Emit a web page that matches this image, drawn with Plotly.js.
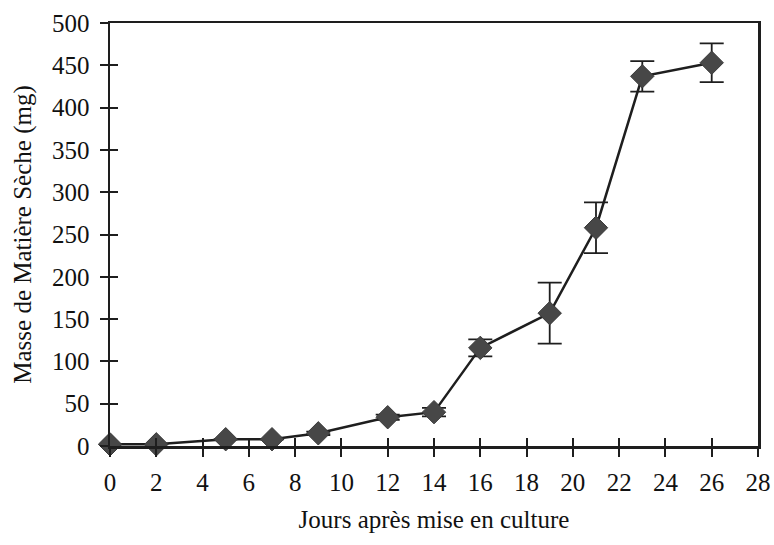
<!DOCTYPE html>
<html>
<head>
<meta charset="utf-8">
<script src="https://cdn.plot.ly/plotly-3.0.1.min.js"></script>
<style>html,body{margin:0;padding:0;background:#fff;}#chart{width:774px;height:545px;}</style>
</head>
<body>
<div id="chart"></div>
<script>
const days = [0, 2, 5, 7, 9, 12, 14, 16, 19, 21, 23, 26];
const masse = [2, 2, 8, 8, 15, 34, 40, 116, 157, 258, 437, 453];
const erreur = [0, 0, 0, 0, 2, 3, 5, 10, 36, 30, 18, 23];
const xTicks = [0, 2, 4, 6, 8, 10, 12, 14, 16, 18, 20, 22, 24, 26, 28];
const yTicks = [0, 50, 100, 150, 200, 250, 300, 350, 400, 450, 500];
const xTitle = 'Jours après mise en culture';
const yTitle = 'Masse de Matière Sèche (mg)';

const font = {family: '"Liberation Serif", "Times New Roman", serif', color: '#111'};

const trace = {
  x: days, y: masse, type: 'scatter', mode: 'lines+markers', cliponaxis: false,
  line: {color: '#1e1e1e', width: 2.5},
  marker: {symbol: 'diamond', size: 18, color: '#474747', line: {color: '#3a3a3a', width: 1}},
  error_y: {type: 'data', array: erreur, visible: true, color: '#1e1e1e', thickness: 1.8, width: 12},
  showlegend: false, hoverinfo: 'skip'
};
const dummy = {x: [null], y: [null], xaxis: 'x2', yaxis: 'y2', type: 'scatter', mode: 'markers', showlegend: false, hoverinfo: 'skip'};

const layout = {
  width: 774, height: 545,
  margin: {l: 110, r: 16, t: 23, b: 99},
  paper_bgcolor: '#fff', plot_bgcolor: '#fff',
  font: Object.assign({size: 25}, font),
  xaxis: {
    range: [0, 28], tickvals: xTicks, ticktext: xTicks.map(String),
    ticks: 'outside', ticklen: 8, tickwidth: 2, tickcolor: '#1e1e1e',
    showline: true, linecolor: '#1e1e1e', linewidth: 2.5, mirror: true,
    showgrid: false, zeroline: false, fixedrange: true,
    tickfont: Object.assign({size: 25}, font), ticklabelstandoff: 4,
    title: {text: xTitle, font: Object.assign({size: 25}, font), standoff: 16}
  },
  yaxis: {
    range: [0, 500], tickvals: yTicks, ticktext: yTicks.map(String),
    ticks: 'outside', ticklen: 8, tickwidth: 2, tickcolor: '#1e1e1e',
    showline: true, linecolor: '#1e1e1e', linewidth: 2.5, mirror: true,
    showgrid: false, zeroline: false, fixedrange: true,
    tickfont: Object.assign({size: 25}, font), ticklabelstandoff: 5,
    title: {text: yTitle, font: Object.assign({size: 25}, font), standoff: 14}
  },
  xaxis2: {
    overlaying: 'x', anchor: 'y2', side: 'bottom', range: [0, 28], tickvals: xTicks,
    ticks: 'inside', ticklen: 8, tickwidth: 2, tickcolor: '#1e1e1e',
    showticklabels: false, showline: false, showgrid: false, zeroline: false, fixedrange: true
  },
  yaxis2: {
    overlaying: 'y', anchor: 'x2', side: 'left', range: [0, 500], tickvals: yTicks,
    ticks: 'inside', ticklen: 8, tickwidth: 2, tickcolor: '#1e1e1e',
    showticklabels: false, showline: false, showgrid: false, zeroline: false, fixedrange: true
  }
};

Plotly.newPlot('chart', [dummy, trace], layout, {displayModeBar: false, staticPlot: true});
</script>
</body>
</html>
